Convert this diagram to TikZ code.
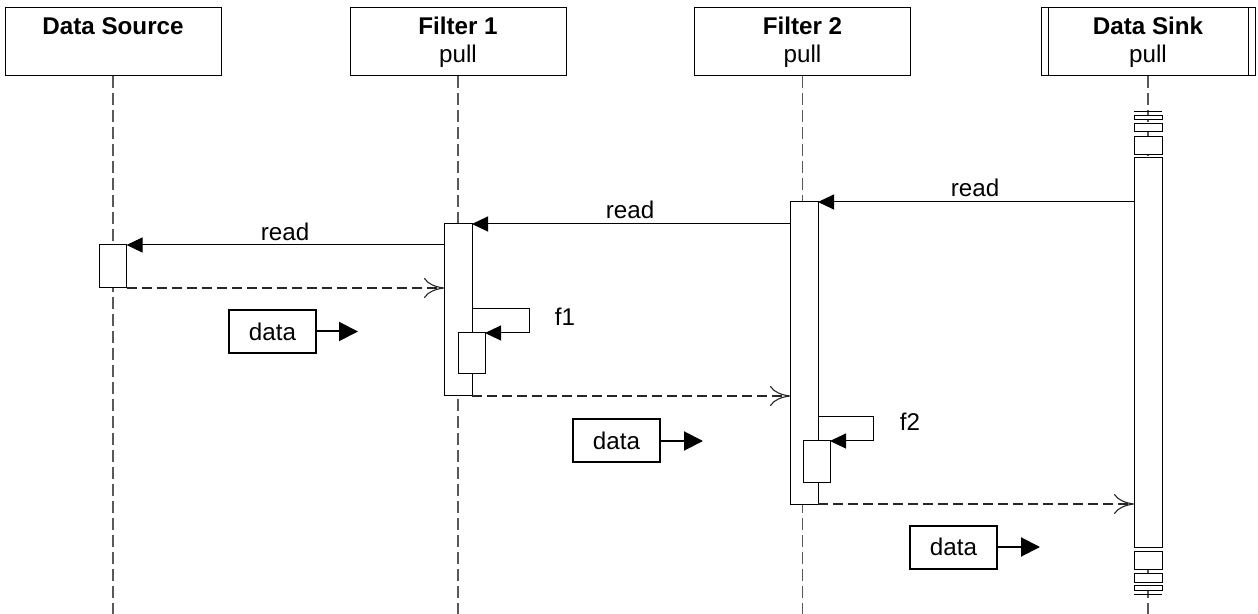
\documentclass[tikz,border=0pt]{standalone}
\usepackage{fontspec}
\setmainfont{Liberation Sans}
\usetikzlibrary{arrows.meta}
\def\pxu{0.5pt}
\tikzset{
  hdr/.style={draw=black, line width=0.5pt, minimum width=216*\pxu, minimum height=68*\pxu, inner sep=0pt, outer sep=0pt},
  lifeline/.style={draw=black!65, line width=0.6pt, dash pattern=on 6pt off 2.5pt},
  bar/.style={draw=black, fill=white, line width=0.5pt, inner sep=0pt, outer sep=0pt, anchor=north west, minimum width=28*\pxu},
  msg/.style={draw=black, line width=0.5pt, -{Triangle[length=8pt,width=7.5pt]}},
  ret/.style={draw=black!85, line width=0.55pt, dash pattern=on 5pt off 2.5pt, -{Computer Modern Rightarrow[length=10pt,width=10pt]}},
  lbl/.style={font=\fontsize{12.1}{14}\selectfont, anchor=base, inner sep=0pt},
  ttl/.style={font=\fontsize{12.1}{14}\selectfont\bfseries, anchor=base, inner sep=0pt},
  databox/.style={draw=black, line width=1pt, minimum width=87*\pxu, minimum height=43*\pxu, inner sep=0pt, outer sep=0pt, font=\fontsize{12.1}{14}\selectfont},
  dataarrow/.style={draw=black, line width=1pt, -{Triangle[length=9.5pt,width=9.5pt]}}
}
\begin{document}
\begin{tikzpicture}[x=0.5pt,y=-0.5pt]
\useasboundingbox (0,0) rectangle (1258,614);
\coordinate (bot) at (0,614);
% headers
\node[hdr] (src) at (113,42) {};
\node[hdr] (f1) at (458,42) {};
\node[hdr] (f2) at (802.5,42) {};
\node[hdr, minimum width=214*\pxu] (sink) at (1148,42) {};
\draw[line width=0.5pt] ([xshift=3.5pt]sink.north west) -- ([xshift=3.5pt]sink.south west);
\draw[line width=0.5pt] ([xshift=-3.5pt]sink.north east) -- ([xshift=-3.5pt]sink.south east);
\node[ttl] (srcT) at (113,35) {Data Source};
\node[ttl] (f1T) at (458,35) {Filter 1};
\node[lbl] (f1P) at (458,63) {pull};
\node[ttl] (f2T) at (802.5,35) {Filter 2};
\node[lbl] (f2P) at (802.5,63) {pull};
\node[ttl] (sinkT) at (1148,35) {Data Sink};
\node[lbl] (sinkP) at (1148,63) {pull};
% lifelines
\draw[lifeline] (src.south) -- (src.south |- bot);
\draw[lifeline] (f1.south) -- (f1.south |- bot);
\draw[lifeline] (f2.south) -- (f2.south |- bot);
\draw[lifeline] (sink.south) -- (sink.south |- bot);
% activation bars
\node[bar, minimum width=27*\pxu, minimum height=43*\pxu] (srcA) at (99.5,245) {};
\node[bar, minimum height=172*\pxu] (f1A) at (444,224) {};
\node[bar, minimum width=27*\pxu, minimum height=41*\pxu] (f1B) at (458,333) {};
\node[bar, minimum height=302*\pxu] (f2A) at (790,202) {};
\node[bar, minimum width=27*\pxu, minimum height=41*\pxu] (f2B) at (803,441) {};
\node[bar, minimum height=389*\pxu] (sinkA) at (1134,158) {};
% broken ends of the sink bar
\node[bar, minimum height=18*\pxu] (sT3) at (1134,137) {};
\node[bar, minimum height=8*\pxu] (sT2) at (1134,124) {};
\node[bar, minimum height=4*\pxu] (sT1) at (1134,116) {};
\coordinate (sTl) at (1134,112);
\coordinate (sTr) at (1162,112);
\draw[line width=0.5pt] (sTl) -- (sTr);
\node[bar, minimum height=18*\pxu] (sB1) at (1134,551) {};
\node[bar, minimum height=9*\pxu] (sB2) at (1134,573) {};
\node[bar, minimum height=5*\pxu] (sB3) at (1134,585) {};
\coordinate (sBl) at (1134,594);
\coordinate (sBr) at (1162,594);
\draw[line width=0.5pt] (sBl) -- (sBr);
% messages
\draw[msg] (sinkA.west |- f2A.north) -- (f2A.north east);
\node[lbl] (r1) at (975,197) {read};
\draw[msg] (f2A.west |- f1A.north) -- (f1A.north east);
\node[lbl] (r2) at (630,219) {read};
\draw[msg] (f1A.west |- srcA.north) -- (srcA.north east);
\node[lbl] (r3) at (285,241) {read};
\draw[ret] (srcA.south east) -- (f1A.west |- srcA.south);
% self call f1
\coordinate (s1a) at (472,309);
\draw[msg] (s1a) -- ++(57,0) |- (f1B.north east);
\node[lbl] (f1L) at (565,326) {f1};
\draw[ret] (f1A.south east) -- (f2A.west |- f1A.south);
% self call f2
\coordinate (s2a) at (818,417);
\draw[msg] (s2a) -- ++(55,0) |- (f2B.north east);
\node[lbl] (f2L) at (910,430) {f2};
\draw[ret] (f2A.south east) -- (sinkA.west |- f2A.south);
% data boxes
\node[databox] (d1) at (272.5,331.5) {data};
\coordinate (d1t) at (358,331.5);
\draw[dataarrow] (d1.east) -- (d1t);
\node[databox] (d2) at (616.5,441) {data};
\coordinate (d2t) at (703,441);
\draw[dataarrow] (d2.east) -- (d2t);
\node[databox] (d3) at (953.5,547) {data};
\coordinate (d3t) at (1040,547);
\draw[dataarrow] (d3.east) -- (d3t);
\end{tikzpicture}
\end{document}
